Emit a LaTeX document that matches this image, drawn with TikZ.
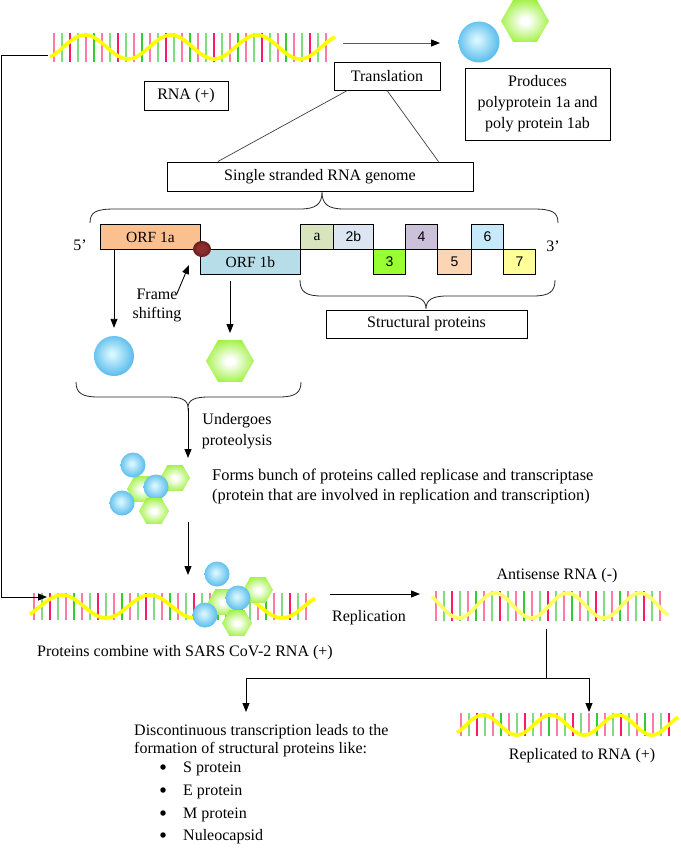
\documentclass[tikz,border=0pt]{standalone}
\usepackage{fontspec}
\setmainfont{Liberation Serif}
\newfontfamily\sansf{Liberation Sans}
\usetikzlibrary{arrows.meta,calc,shapes.geometric}

\definecolor{sphin}{HTML}{D5F5FF}
\definecolor{sphout}{HTML}{1AA0E2}
\definecolor{hexg}{HTML}{9CF03A}
\definecolor{dotin}{HTML}{8B2D2D}
\definecolor{dotout}{HTML}{3D0505}
\definecolor{col0}{HTML}{80DC80}
\definecolor{col1}{HTML}{33CC33}
\definecolor{col2}{HTML}{FF7AA5}
\definecolor{col3}{HTML}{FF1A66}
\definecolor{rnay}{HTML}{FFFF00}
\definecolor{rnaypale}{HTML}{FFFF66}
\definecolor{corfa}{HTML}{FAC090}
\definecolor{corfb}{HTML}{B7DDE8}
\definecolor{cga}{HTML}{D7E4BD}
\definecolor{cgtb}{HTML}{DCE6F2}
\definecolor{cgthree}{HTML}{99FF33}
\definecolor{cgfour}{HTML}{CCC1DA}
\definecolor{cgfive}{HTML}{FCD5B5}
\definecolor{cgsix}{HTML}{C6EAFB}
\definecolor{cgseven}{HTML}{FFFF99}

\pgfdeclareradialshading{sphsh}{\pgfpoint{-3bp}{3bp}}{color(0bp)=(sphin); color(3bp)=(sphin); color(38bp)=(sphout); color(50bp)=(sphout)}
\pgfdeclareradialshading{hexsh}{\pgfpoint{0bp}{0bp}}{color(0bp)=(white); color(4bp)=(white); color(28bp)=(hexg); color(50bp)=(hexg)}
\pgfdeclareradialshading{dotsh}{\pgfpoint{-2bp}{2bp}}{color(0bp)=(dotin); color(12bp)=(dotin); color(42bp)=(dotout); color(50bp)=(dotout)}

% #1 x0, #2 x1, #3 ymid, #4 amp, #5 period, #6 peak x, #7 line top, #8 line bottom, #9 colour
\newcommand\rnawave[9]{%
  \pgfmathsetmacro\wA{#1+4}\pgfmathsetmacro\wB{#1+12}\pgfmathsetmacro\wC{#2-3}%
  \pgfmathsetmacro\wK{360/#5}%
  \foreach \xx [count=\c] in {\wA,\wB,...,\wC}{%
    \pgfmathtruncatemacro\m{mod(\c,2)*2+(mod(\c,3)==0)}%
    \draw[col\m, line width=1.6pt] (\xx,#7) -- (\xx,#8);
  }%
  \draw[#9, line width=3.6pt] plot[domain=#1:#2, samples=140, smooth] (\x, {#3-#4*cos(\wK*(\x-#6))});
}

\tikzset{
  tx/.style={font=\fontsize{16}{21}\selectfont, inner sep=0pt},
  box/.style={draw, line width=0.9pt, tx, align=center},
  gbox/.style={draw, line width=0.9pt, minimum height=25, inner sep=0pt, anchor=north west, font=\fontsize{15.5}{18}\selectfont},
  nbox/.style={gbox, font=\sansf\fontsize{14}{17}\selectfont},
  arr/.style={-{Triangle[length=9pt,width=7pt,color=black]}, line width=0.9pt},
  sph/.style={circle, shade, shading=sphsh, inner sep=0pt, minimum size=#1},
  sph/.default=40,
  hexa/.style={regular polygon, regular polygon sides=6, shade, shading=hexsh, inner sep=0pt, minimum size=#1},
  hexa/.default=48,
  brc/.style={line width=0.8pt, draw=black!85},
  thin/.style={line width=0.7pt, draw=black!75},
}

\begin{document}
\begin{tikzpicture}[x=1pt,y=-1pt]
\useasboundingbox (0,0) rectangle (680,851);
\fill[white] (0,0) rectangle (680,851);

% ---------- top RNA ----------
\rnawave{50}{335}{47}{12}{86}{85}{33}{62}{rnay}
\coordinate (w1l) at (48,55);
\coordinate (w1r) at (343,43);
\coordinate (prodarr) at (440,43);

\node[box, minimum width=84, minimum height=29] (rnap) at (186,95.5) {RNA (+)};
\node[box, minimum width=106, minimum height=28] (trans) at (387,76) {Translation};
\node[box, minimum width=145, minimum height=72] (prod) at (537.5,104) {Produces\\polyprotein 1a and\\poly protein 1ab};
\node[sph=41] (sphA) at (479,42) {};
\node[hexa=48] (hexA) at (525,21) {};

\draw[arr, draw=black!65] (w1r) -- (prodarr);

\node[box, minimum width=306, minimum height=29] (ss) at (320,176.5) {Single stranded RNA genome};
\draw[thin] ($(trans.south west)!0.13!(trans.south east)$) -- ($(ss.north west)!0.167!(ss.north east)$);
\draw[thin] (trans.south) -- ($(ss.north west)!0.886!(ss.north east)$);

% top brace
\draw[brc] (90,223) .. controls (90,212) and (96,209) .. (115,209) -- (300,209)
  .. controls (316,209) and (322,204) .. (322,192)
  .. controls (322,204) and (328,209) .. (344,209) -- (533,209)
  .. controls (552,209) and (558,212) .. (558,223);

% ---------- genome ----------
\node[tx] (five) at (80,245) {5’};
\node[tx] (three) at (553,246) {3’};
\node[gbox, fill=corfa, minimum width=100] (orfa) at (100,224) {ORF 1a};
\node[gbox, fill=corfb, minimum width=100] (orfb) at (200,249) {ORF 1b};
\node[gbox, fill=cga, minimum width=33] (ga) at (300,224) {a};
\node[nbox, fill=cgtb, minimum width=40] (gtb) at (333,224) {2b};
\node[nbox, fill=cgthree, minimum width=32] (gthree) at (373,249) {3};
\node[nbox, fill=cgfour, minimum width=32] (gfour) at (405,224) {4};
\node[nbox, fill=cgfive, minimum width=34] (gfive) at (437,249) {5};
\node[nbox, fill=cgsix, minimum width=32] (gsix) at (471,224) {6};
\node[nbox, fill=cgseven, minimum width=32] (gseven) at (503,249) {7};
\node[ellipse, shade, shading=dotsh, minimum width=18, minimum height=16, inner sep=0pt] (fsdot) at (202,249) {};

\node[tx, align=center, font=\fontsize{16}{19}\selectfont] (fs) at (157,305) {Frame\\shifting};
\coordinate (fsend) at (189,265);
\draw[arr] ($(fs.north east)+(-5,6)$) -- (fsend);

% structural brace
\draw[brc] (300,280) .. controls (300,292) and (306,296) .. (322,296) -- (405,296)
  .. controls (420,296) and (426,300) .. (426,309)
  .. controls (426,300) and (432,296) .. (447,296) -- (533,296)
  .. controls (549,296) and (555,292) .. (555,280);
\node[box, minimum width=201, minimum height=28] (struct) at (426.5,324) {Structural proteins};

% polyproteins
\node[sph=40] (sphB) at (114,356) {};
\node[hexa=48] (hexB) at (230,361) {};
\draw[arr, shorten >=8pt] (sphB.north |- orfa.south) -- (sphB.north);
\draw[arr, shorten <=6pt, shorten >=7pt] (hexB.north |- orfb.south) -- (hexB.north);

% lower brace
\draw[brc] (76,382) .. controls (76,393) and (82,397) .. (98,397) -- (167,397)
  .. controls (182,397) and (188,400) .. (188,408)
  .. controls (188,400) and (194,397) .. (209,397) -- (279,397)
  .. controls (295,397) and (301,393) .. (301,382);
\coordinate (btip) at (188,408);
\coordinate (clatop) at (188,458);
\draw[arr] (btip) -- (clatop);
\node[tx, align=center] (undergo) at (237,431) {Undergoes\\proteolysis};

% cluster 1
\node[hexa=30] (ca1) at (142,489) {};
\node[hexa=30] (ca2) at (175,478) {};
\node[sph=25] (ca3) at (133,465) {};
\node[sph=25] (ca4) at (156,487) {};
\node[hexa=30] (ca5) at (154,511) {};
\node[sph=25] (ca6) at (122,503) {};
\node[tx, anchor=west, align=left, font=\fontsize{16.4}{20}\selectfont] (forms) at (212,486) {Forms bunch of proteins called replicase and transcriptase\\(protein that are involved in replication and transcription)};

\coordinate (clabot) at (188,522);
\coordinate (wtwotop) at (188,575);
\draw[arr] (clabot) -- (wtwotop);

% ---------- bottom-left RNA ----------
\rnawave{30}{315}{606.5}{11.5}{88}{62}{593}{620}{rnay}
\coordinate (w2l) at (47,597);
\coordinate (w2r) at (330,594);
\draw[arr] (w1l) -- ++(-47,0) |- (w2l);

% cluster 2
\node[hexa=30] (cb1) at (223,602) {};
\node[hexa=30] (cb2) at (258,590) {};
\node[sph=25] (cb3) at (217,574) {};
\node[sph=25] (cb4) at (238,598) {};
\node[hexa=30] (cb5) at (237,623) {};
\node[sph=25] (cb6) at (205,615) {};
\node[tx] (combine) at (185,653) {Proteins combine with SARS CoV-2 RNA (+)};

% replication
\coordinate (w3l) at (420,594);
\draw[arr] (w2r) -- (w3l);
\node[tx] (repl) at (369,618) {Replication};

% ---------- antisense RNA ----------
\rnawave{432}{668}{605.5}{12.5}{72.5}{495}{591}{621}{rnaypale}
\node[tx] (anti) at (557,576) {Antisense RNA (-)};
\coordinate (antibot) at (546,629);
\coordinate (split) at (546,678);
\coordinate (tleft) at (246,712);
\coordinate (tright) at (589,712);
\draw[line width=0.9pt] (antibot) -- (split);
\draw[arr] (split) -| (tleft);
\draw[arr] (split) -| (tright);

% ---------- bottom-right RNA ----------
\rnawave{457}{678}{725}{10}{67.5}{483}{713}{736}{rnay}
\node[tx] (repto) at (582,756) {Replicated to RNA (+)};

% ---------- discontinuous transcription ----------
\node[tx, anchor=base west] (disca) at (134,735) {Discontinuous transcription leads to the};
\node[tx, anchor=base west] (discb) at (134,753) {formation of structural proteins like:};
\node[tx, anchor=base west] (bs) at (183,772) {S protein};
\node[tx, anchor=base west] (be) at (183,795) {E protein};
\node[tx, anchor=base west] (bm) at (183,818) {M protein};
\node[tx, anchor=base west] (bn) at (183,840) {Nuleocapsid};
\foreach \yy/\nm in {767/ds, 790/de, 813/dm, 835/dn}
  \node[circle, fill=black, inner sep=0pt, minimum size=5.5] (\nm) at (163,\yy) {};
\end{tikzpicture}
\end{document}
